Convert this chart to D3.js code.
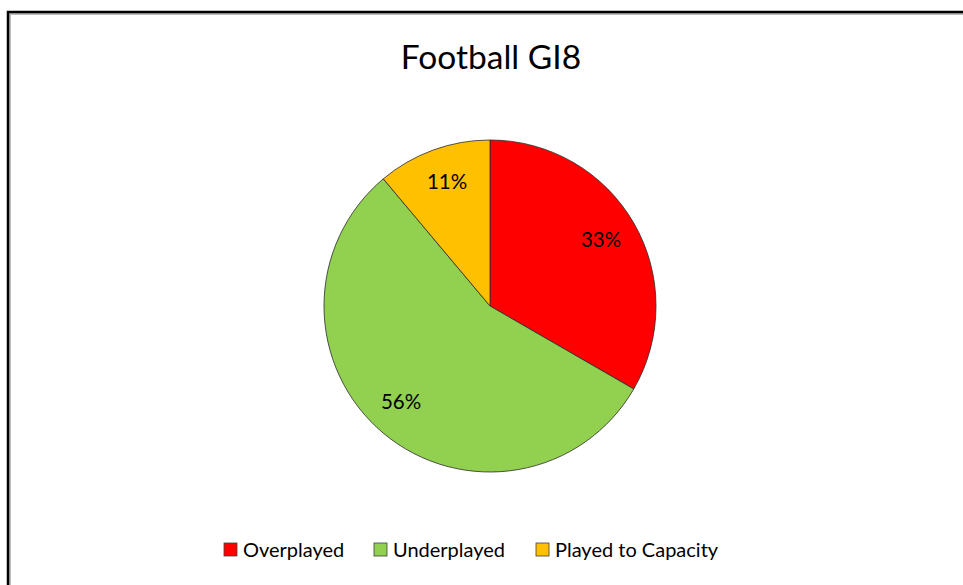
<!DOCTYPE html>
<html><head><meta charset="utf-8">
<script src="https://cdn.jsdelivr.net/npm/d3@7"></script>
<style>body{margin:0;background:#fff;}svg{display:block;}</style>
</head><body>
<svg id="c" width="963" height="585"></svg>
<script>
const categories = ["Overplayed", "Underplayed", "Played to Capacity"];
const values = [3, 5, 1];
const colors = ["#FF0000", "#92D050", "#FFC000"];
const labelPos = [[601, 247], [401, 409], [447, 189]];

const svg = d3.select("#c");
const font = "Lato, 'Open Sans', sans-serif";

// border
svg.append("rect").attr("x", 10).attr("y", 14).attr("width", 1000).attr("height", 700)
  .attr("fill", "none").attr("stroke", "#bbb").attr("stroke-width", 2);
svg.append("rect").attr("x", 8).attr("y", 12).attr("width", 1000).attr("height", 700)
  .attr("fill", "none").attr("stroke", "#000").attr("stroke-width", 2.5);

svg.append("text").attr("x", 491).attr("y", 69).attr("text-anchor", "middle")
  .attr("font-family", font).attr("font-size", 33.5).attr("fill", "#000").text("Football GI8");

const cx = 490, cy = 306, r = 166;
const pie = d3.pie().sort(null).value(d => d)(values);
const arc = d3.arc().innerRadius(0).outerRadius(r);
const g = svg.append("g").attr("transform", `translate(${cx},${cy})`);
g.selectAll("path").data(pie).join("path")
  .attr("d", arc).attr("fill", (d, i) => colors[i])
  .attr("stroke", "#2b2b2b").attr("stroke-width", 0.8);

const total = d3.sum(values);
g.selectAll("text.lbl").data(pie).join("text").attr("class", "lbl")
  .attr("x", (d, i) => labelPos[i][0] - cx).attr("y", (d, i) => labelPos[i][1] - cy)
  .attr("text-anchor", "middle")
  .attr("font-family", font).attr("font-size", 20.5).attr("fill", "#000")
  .text(d => Math.round(d.data / total * 100) + "%");

// legend
const legX = [224, 374, 536];
const leg = svg.append("g");
categories.forEach((c, i) => {
  leg.append("rect").attr("x", legX[i]).attr("y", 543).attr("width", 13).attr("height", 13)
    .attr("fill", colors[i]).attr("stroke", "#404040").attr("stroke-width", 0.8);
  leg.append("text").attr("x", legX[i] + 19).attr("y", 557)
    .attr("font-family", font).attr("font-size", 20).attr("fill", "#000").text(c);
});
</script>
</body></html>
